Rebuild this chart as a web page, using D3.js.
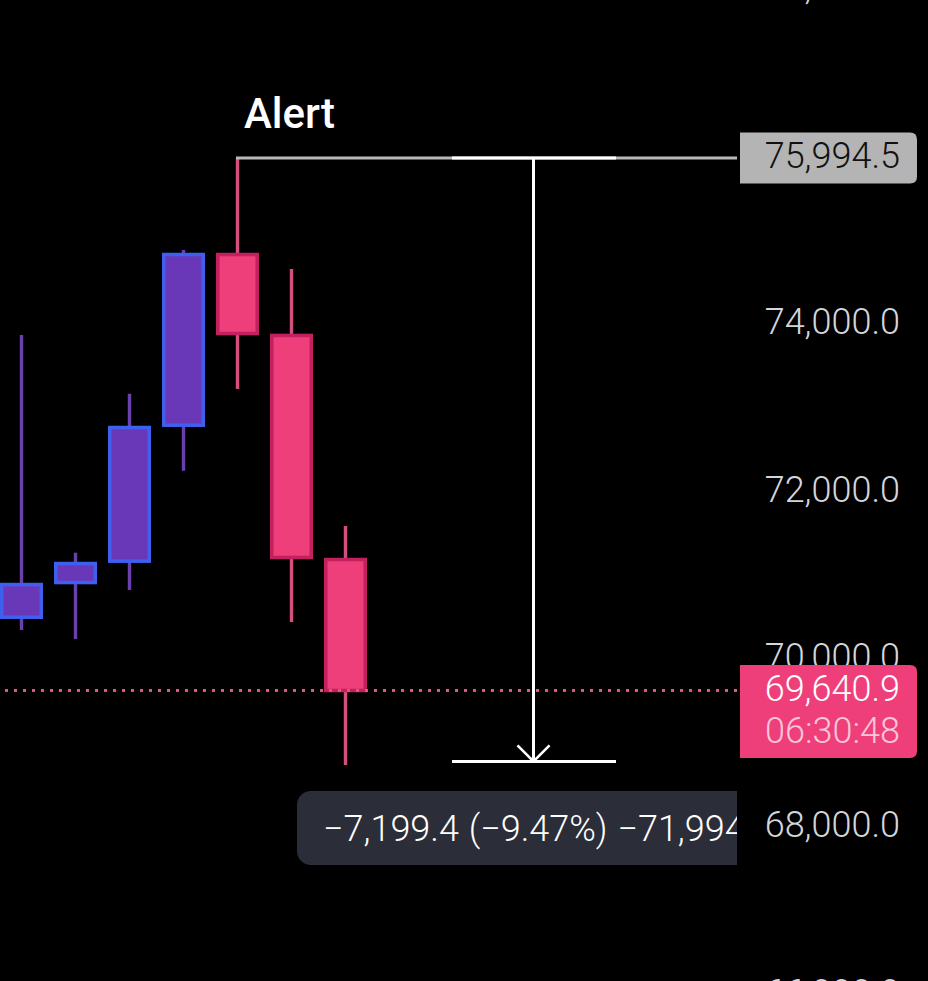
<!DOCTYPE html>
<html>
<head>
<meta charset="utf-8">
<script src="https://cdn.jsdelivr.net/npm/d3@7"></script>
<style>
  html, body { margin: 0; background: #000; overflow: hidden; }
  text { font-family: Roboto, sans-serif; }
</style>
</head>
<body>
<div id="container"></div>
<script>
/* DATA */
const candleIndex = [0, 1, 2, 3, 4, 5, 6];
const opens  = [70515, 70929, 71184, 72806, 74843, 73877, 71204];
const highs  = [73882, 71285, 73182, 74897, 75994.5, 74670, 71604];
const lows   = [70363, 70255, 70840, 72263, 73238, 70458, 68752];
const closes = [70905, 71156, 72779, 74843, 73900, 71228, 69640.9];

const axisTicks = [78000, 76000, 74000, 72000, 70000, 68000, 66000];

const lastPrice = 69640.9;
const countdown = "06:30:48";
const alertLabel = "Alert";
const measureHigh = 75994.5;
const measureChange = -7199.4;
const measureText = "\u22127,199.4 (\u22129.47%) \u221271,994";

/* CONSTANTS */
const width = 928,
  height = 981,
  plotRight = 737,
  bodyWidth = 39.5,
  labelSize = 36;

const svg = d3.select("#container")
  .append("svg")
  .attr("width", width)
  .attr("height", height)
  .style("display", "block");

svg.append("rect")
  .attr("width", width)
  .attr("height", height)
  .attr("fill", "#000");

// SCALES
const xScale = d3.scaleLinear()
  .domain([0, 6])
  .range([21.5, 345.5]);

const yScale = d3.scaleLinear()
  .domain([measureHigh, lastPrice])
  .range([158, 690.5]);

// AXIS
const fmt = d3.format(",.1f");
const axisG = svg.append("g")
  .attr("transform", "translate(900,-3)")
  .call(d3.axisLeft(yScale).tickValues(axisTicks).tickSize(0).tickPadding(0).tickFormat(fmt));
axisG.select(".domain").remove();
axisG.selectAll("text")
  .attr("fill", "#d4d6da")
  .attr("font-size", labelSize)
  .attr("font-weight", 300)
  .style("font-family", "Roboto, sans-serif");

// CANDLES
const candles = svg.selectAll("g.candle")
  .data(candleIndex)
  .join("g")
  .attr("class", "candle");

candles.append("line")
  .attr("x1", i => xScale(i))
  .attr("x2", i => xScale(i))
  .attr("y1", i => yScale(highs[i]))
  .attr("y2", i => yScale(lows[i]))
  .attr("stroke", i => closes[i] >= opens[i] ? "#6a41ac" : "#d3507d")
  .attr("stroke-width", 3.4);

candles.append("rect")
  .attr("x", i => xScale(i) - bodyWidth / 2)
  .attr("width", bodyWidth)
  .attr("y", i => yScale(Math.max(opens[i], closes[i])))
  .attr("height", i => Math.abs(yScale(opens[i]) - yScale(closes[i])))
  .attr("fill", i => closes[i] >= opens[i] ? "#6938b8" : "#ee3f7b")
  .attr("stroke", i => closes[i] >= opens[i] ? "#3e60ee" : "#c2205f")
  .attr("stroke-width", 3.5);

// LAST PRICE LINE
svg.append("line")
  .attr("x1", 5)
  .attr("x2", plotRight)
  .attr("y1", yScale(lastPrice))
  .attr("y2", yScale(lastPrice))
  .attr("stroke", "#e0567c")
  .attr("stroke-width", 3)
  .attr("stroke-dasharray", "3 6");

// MEASURE TOOL
const yTop = yScale(measureHigh),
  yBottom = yScale(measureHigh + measureChange),
  xMid = 533.5;

svg.append("line")
  .attr("x1", xScale(4) - 1.5).attr("x2", plotRight)
  .attr("y1", yTop).attr("y2", yTop)
  .attr("stroke", "#b8b8b8").attr("stroke-width", 3);

[yTop, yBottom].forEach(y => {
  svg.append("line")
    .attr("x1", 452).attr("x2", 616)
    .attr("y1", y).attr("y2", y)
    .attr("stroke", "#fff").attr("stroke-width", 3);
});

svg.append("line")
  .attr("x1", xMid).attr("x2", xMid)
  .attr("y1", yTop).attr("y2", yBottom)
  .attr("stroke", "#fff").attr("stroke-width", 3);

svg.append("path")
  .attr("d", d3.line()([[xMid - 16, yBottom - 16], [xMid, yBottom], [xMid + 16, yBottom - 16]]))
  .attr("fill", "none")
  .attr("stroke", "#fff")
  .attr("stroke-width", 2.6);

svg.append("text")
  .attr("x", 244)
  .attr("y", 128)
  .attr("fill", "#fff")
  .attr("font-size", 42)
  .attr("font-weight", 500)
  .text(alertLabel);

// MEASURE TOOLTIP
svg.append("clipPath")
  .attr("id", "tipClip")
  .append("rect")
  .attr("x", 297).attr("y", 791)
  .attr("width", plotRight - 297).attr("height", 74);

const tip = svg.append("g").attr("clip-path", "url(#tipClip)");
tip.append("rect")
  .attr("x", 297).attr("y", 791)
  .attr("width", 480).attr("height", 74)
  .attr("rx", 14)
  .attr("fill", "#2b2d39");
tip.append("text")
  .attr("x", 323)
  .attr("y", 841)
  .attr("fill", "#fff")
  .attr("font-size", labelSize)
  .attr("font-weight", 300)
  .attr("word-spacing", 1)
  .text(measureText);

// PRICE TAGS
// box with square left side and rounded right corners
const tag = (y, h) => {
  const x = 740, w = 177, r = 7;
  return `M${x},${y}H${x + w - r}Q${x + w},${y} ${x + w},${y + r}V${y + h - r}Q${x + w},${y + h} ${x + w - r},${y + h}H${x}Z`;
};

svg.append("path")
  .attr("d", tag(yTop - 25.5, 51))
  .attr("fill", "#b4b4b4");
svg.append("text")
  .attr("x", 900)
  .attr("y", yTop + 10)
  .attr("text-anchor", "end")
  .attr("fill", "#111")
  .attr("font-size", labelSize)
  .attr("font-weight", 300)
  .text(fmt(measureHigh));

svg.append("path")
  .attr("d", tag(yScale(lastPrice) - 25.5, 93))
  .attr("fill", "#ee3f7b");
svg.append("text")
  .attr("x", 900)
  .attr("y", yScale(lastPrice) + 10)
  .attr("text-anchor", "end")
  .attr("fill", "#fff")
  .attr("font-size", labelSize)
  .attr("font-weight", 300)
  .text(fmt(lastPrice));
svg.append("text")
  .attr("x", 900)
  .attr("y", yScale(lastPrice) + 52)
  .attr("text-anchor", "end")
  .attr("fill", "#fbc6d8")
  .attr("font-size", labelSize)
  .attr("font-weight", 300)
  .text(countdown);
</script>
</body>
</html>
